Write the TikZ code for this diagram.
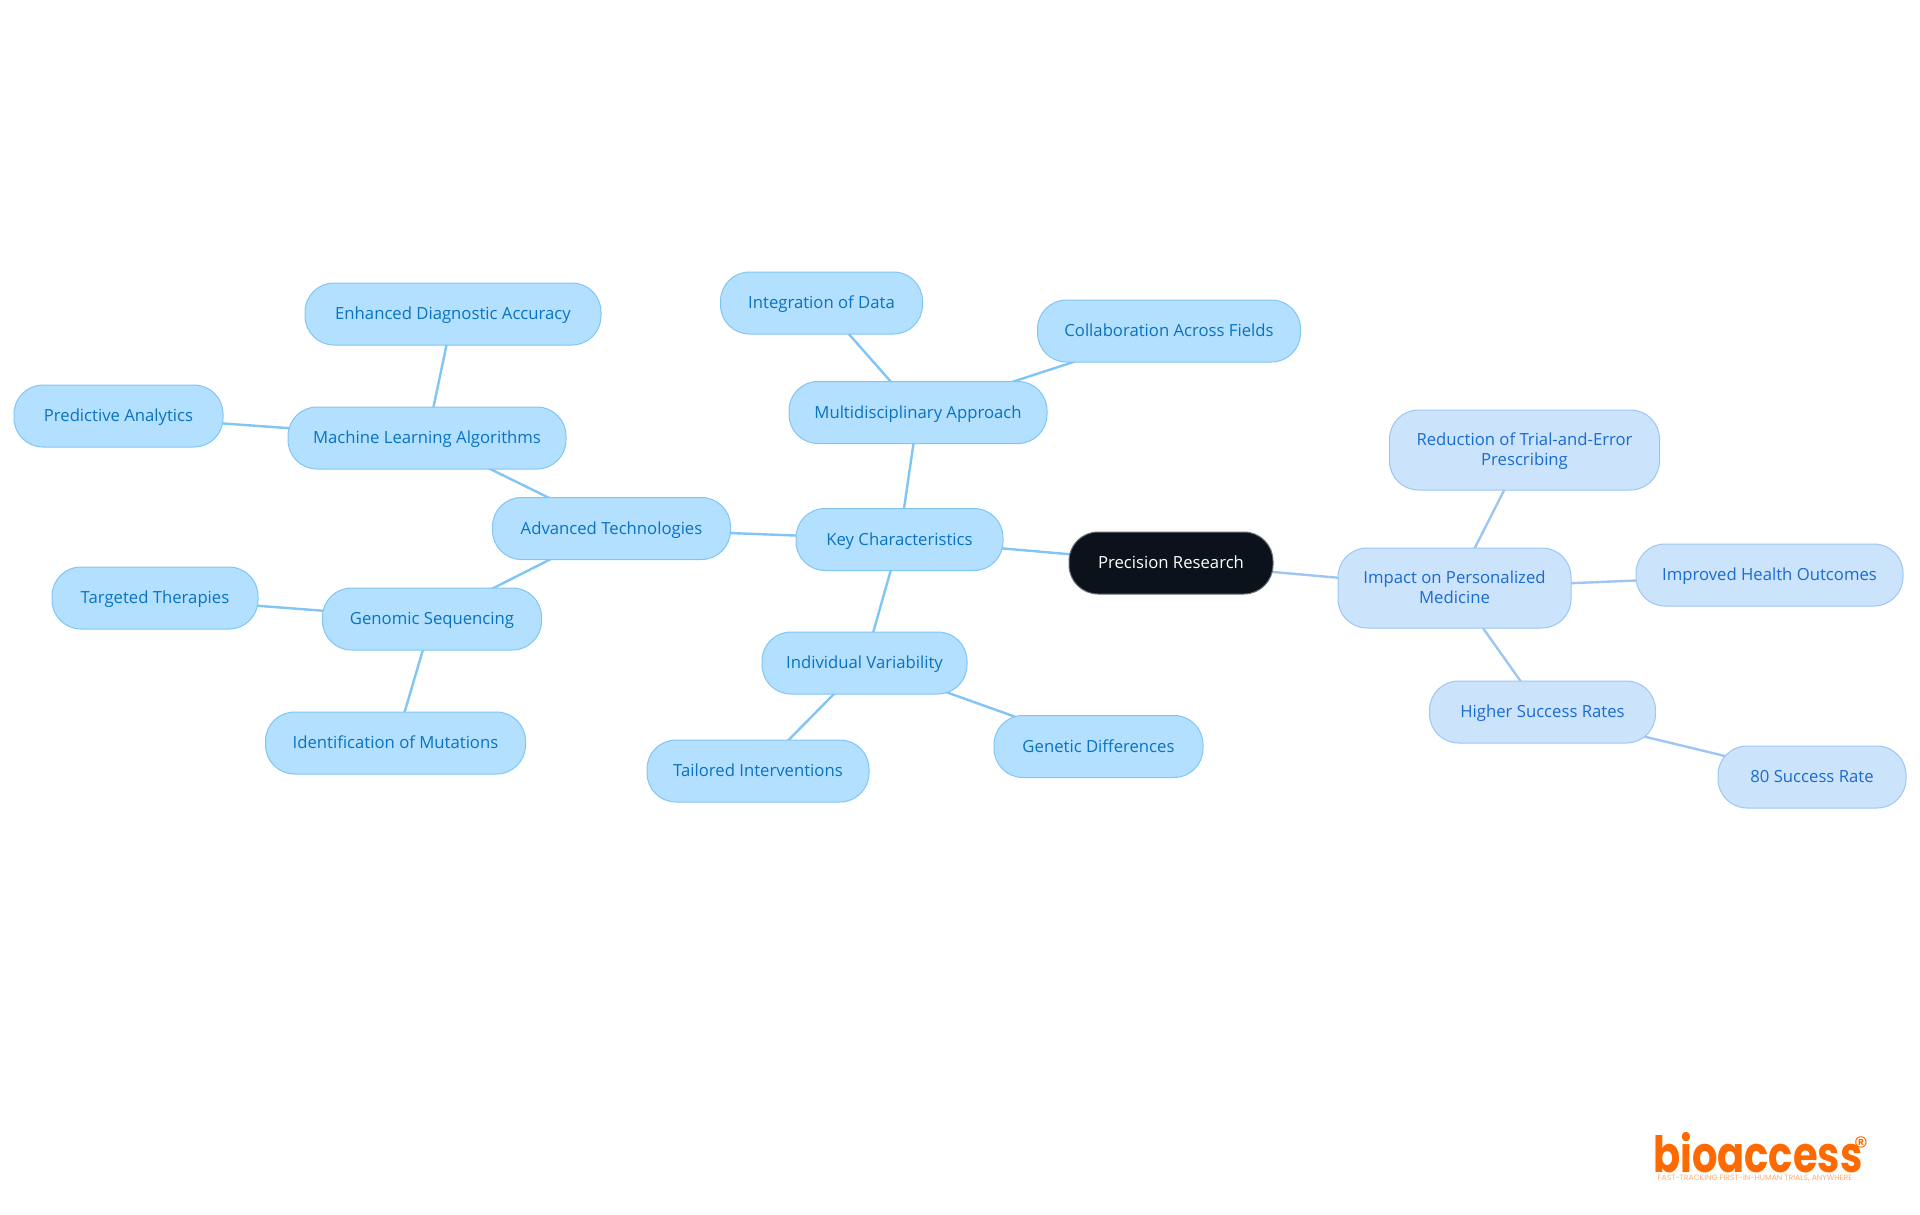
\documentclass[tikz,border=0pt]{standalone}
\usepackage{fontspec}
\setmainfont{Open Sans}
\newfontfamily\logofont{Poppins}[BoldFont={* Bold}]
\usepackage{tikz}
\usetikzlibrary{backgrounds}

\definecolor{sky}{HTML}{B3E0FE}
\definecolor{skyline}{HTML}{81C5F5}
\definecolor{skytext}{HTML}{0A72C2}
\definecolor{pale}{HTML}{CCE3FC}
\definecolor{paleline}{HTML}{9DC6F3}
\definecolor{paletext}{HTML}{1A6BD0}
\definecolor{ink}{HTML}{0B121B}
\definecolor{inkline}{HTML}{6B7076}
\definecolor{logoorange}{HTML}{FF6A00}

\tikzset{
    mapnode/.style={draw, rounded corners=29pt, line width=1pt, inner sep=0pt,
        minimum height=62pt, align=center, text height=15pt, text depth=4pt,
        font=\fontsize{16.7}{19.6}\selectfont},
    rootnode/.style={mapnode, fill=ink, draw=inkline, text=white},
    keynode/.style={mapnode, fill=sky, draw=skyline, text=skytext},
    impactnode/.style={mapnode, fill=pale, draw=paleline, text=paletext},
    tallnode/.style={impactnode, minimum height=80pt, text height=35pt},
    keylink/.style={skyline, line width=2.4pt},
    impactlink/.style={paleline, line width=2.4pt}
}

\begin{document}
\begin{tikzpicture}[x=1pt, y=-1pt]
        \useasboundingbox (0,0) rectangle (1920,1215);

        % The root of the map
        \node[rootnode, minimum width=204pt] (root) at (1171,563) {Precision Research};

        % Key characteristics and its branches
        \node[keynode, minimum width=207pt] (key) at (899.5,539.5) {Key Characteristics};
        \node[keynode, minimum width=205pt] (variability) at (864.5,663) {Individual Variability};
        \node[keynode, minimum width=222pt] (tailored) at (758,771) {Tailored Interventions};
        \node[keynode, minimum width=209pt] (genetic) at (1098.5,746.5) {Genetic Differences};
        \node[keynode, minimum width=258pt] (multi) at (918,412.5) {Multidisciplinary Approach};
        \node[keynode, minimum width=202pt] (integration) at (821.5,303) {Integration of Data};
        \node[keynode, minimum width=263pt] (collab) at (1169,331) {Collaboration Across Fields};
        \node[keynode, minimum width=238pt] (advanced) at (611.5,528.5) {Advanced Technologies};
        \node[keynode, minimum width=278pt] (learning) at (427,438) {Machine Learning Algorithms};
        \node[keynode, minimum width=296pt] (diagnostic) at (453,314) {Enhanced Diagnostic Accuracy};
        \node[keynode, minimum width=209pt] (predictive) at (118.5,416) {Predictive Analytics};
        \node[keynode, minimum width=219pt] (genomic) at (432,619) {Genomic Sequencing};
        \node[keynode, minimum width=206pt] (targeted) at (155,598) {Targeted Therapies};
        \node[keynode, minimum width=260pt] (mutations) at (395.5,743) {Identification of Mutations};

        % Impact on personalized medicine and its branches
        \node[tallnode, minimum width=233pt] (impact) at (1454.5,588) {Impact on Personalized\\Medicine};
        \node[tallnode, minimum width=270pt] (reduction) at (1524.5,450) {Reduction of Trial-and-Error\\Prescribing};
        \node[impactnode, minimum width=267pt] (outcomes) at (1769.5,575) {Improved Health Outcomes};
        \node[impactnode, minimum width=226pt] (higher) at (1542.5,712) {Higher Success Rates};
        \node[impactnode, minimum width=188pt] (rate) at (1812,777) {80 Success Rate};

        % The links sit behind the nodes
        \begin{scope}[on background layer]
            \draw[keylink] (root.center) -- (key.center);
            \draw[keylink] (key.center) -- (variability.center);
            \draw[keylink] (variability.center) -- (tailored.center);
            \draw[keylink] (variability.center) -- (genetic.center);
            \draw[keylink] (key.center) -- (multi.center);
            \draw[keylink] (multi.center) -- (integration.center);
            \draw[keylink] (multi.center) -- (collab.center);
            \draw[keylink] (key.center) -- (advanced.center);
            \draw[keylink] (advanced.center) -- (learning.center);
            \draw[keylink] (learning.center) -- (diagnostic.center);
            \draw[keylink] (learning.center) -- (predictive.center);
            \draw[keylink] (advanced.center) -- (genomic.center);
            \draw[keylink] (genomic.center) -- (targeted.center);
            \draw[keylink] (genomic.center) -- (mutations.center);
            \draw[impactlink] (root.center) -- (impact.center);
            \draw[impactlink] (impact.center) -- (reduction.center);
            \draw[impactlink] (impact.center) -- (outcomes.center);
            \draw[impactlink] (impact.center) -- (higher.center);
            \draw[impactlink] (higher.center) -- (rate.center);
        \end{scope}

        % The logo in the corner
        \node[logoorange, inner sep=0pt, anchor=base west, xscale=.8, transform shape,
            font=\logofont\bfseries\fontsize{50}{50}\selectfont] (logo) at (1653,1172) {bioaccess};
        \node[logoorange, inner sep=0pt, font=\logofont\fontsize{28}{28}\selectfont] (mark) at (1861,1147) {®};
        \node[logoorange!55, inner sep=0pt, font=\logofont\fontsize{7.7}{8}\selectfont] (tagline) at (1755,1178.5) {FAST-TRACKING FIRST-IN-HUMAN TRIALS, ANYWHERE};
\end{tikzpicture}
\end{document}
